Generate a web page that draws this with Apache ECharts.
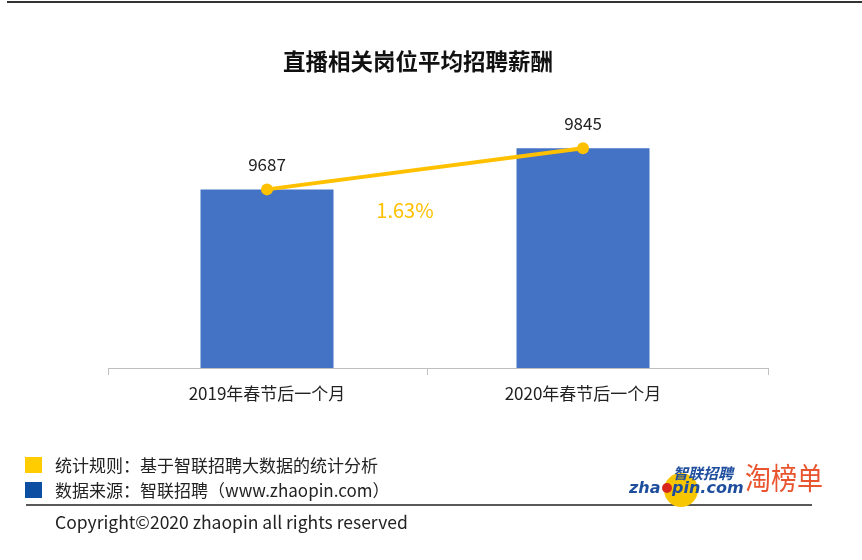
<!DOCTYPE html>
<html>
<head>
<meta charset="utf-8">
<script src="https://cdn.jsdelivr.net/npm/echarts@6/dist/echarts.min.js"></script>
<style>
  html, body { margin: 0; padding: 0; background: #fff; }
  #chart { width: 862px; height: 560px; }
</style>
</head>
<body>
<div id="chart"></div>
<script>
const categories = ['2019年春节后一个月', '2020年春节后一个月']
const salary = [9687, 9845]
const growthLabel = '1.63%'
const titleText = '直播相关岗位平均招聘薪酬'
const noteRule = '统计规则：基于智联招聘大数据的统计分析'
const noteSource = '数据来源：智联招聘（www.zhaopin.com）'
const copyright = 'Copyright©2020 zhaopin all rights reserved'

const CJK = '"Noto Sans CJK SC", "Noto Sans", sans-serif'
const chart = echarts.init(document.getElementById('chart'))

const option = {
  backgroundColor: '#fff',
  animation: false,
  grid: { left: 109, right: 121, top: 108, bottom: 192 },
  xAxis: {
    type: 'category',
    data: categories,
    axisLine: { lineStyle: { color: '#bfbfbf', width: 1 } },
    axisTick: { show: false },
    axisLabel: { color: '#222', fontSize: 17, fontFamily: CJK, margin: 17 }
  },
  yAxis: {
    type: 'value',
    min: 9000,
    max: 10000,
    show: false,
    splitLine: { show: false }
  },
  series: [
    {
      type: 'bar',
      data: salary,
      barWidth: 133,
      itemStyle: { color: '#4472C4' }
    },
    {
      type: 'line',
      data: salary,
      symbol: 'circle',
      symbolSize: 12,
      lineStyle: { color: '#FFC000', width: 4 },
      itemStyle: { color: '#FFC000' },
      label: {
        show: true,
        position: 'top',
        distance: 10,
        color: '#222',
        fontSize: 17,
        fontFamily: CJK
      }
    }
  ],
  graphic: [
    // top rule
    { type: 'line', shape: { x1: 7, y1: 2, x2: 862, y2: 2 }, style: { stroke: '#333', lineWidth: 2 } },
    // axis line extension and ticks
    { type: 'line', shape: { x1: 741, y1: 368.5, x2: 768, y2: 368.5 }, style: { stroke: '#bfbfbf', lineWidth: 1 } },
    { type: 'line', shape: { x1: 108.5, y1: 368, x2: 108.5, y2: 375 }, style: { stroke: '#bfbfbf', lineWidth: 1 } },
    { type: 'line', shape: { x1: 427.5, y1: 368, x2: 427.5, y2: 375 }, style: { stroke: '#bfbfbf', lineWidth: 1 } },
    { type: 'line', shape: { x1: 768.5, y1: 368, x2: 768.5, y2: 375 }, style: { stroke: '#bfbfbf', lineWidth: 1 } },
    // title
    {
      type: 'text', left: 283, top: 50,
      style: { text: titleText, fill: '#111', font: 'bold 22.5px ' + CJK }
    },
    // growth label
    {
      type: 'text', x: 405, y: 210,
      style: { text: growthLabel, fill: '#FFC000', font: '20px ' + CJK, textAlign: 'center', textVerticalAlign: 'middle' }
    },
    // notes
    { type: 'rect', shape: { x: 25, y: 457, width: 17, height: 16 }, style: { fill: '#FFCC00' } },
    { type: 'rect', shape: { x: 25, y: 482, width: 17, height: 16 }, style: { fill: '#0B4EA2' } },
    {
      type: 'text', x: 55, y: 466,
      style: { text: noteRule, fill: '#222', font: '17px ' + CJK, textVerticalAlign: 'middle' }
    },
    {
      type: 'text', x: 55, y: 491,
      style: { text: noteSource, fill: '#222', font: '17px ' + CJK, textVerticalAlign: 'middle' }
    },
    { type: 'line', shape: { x1: 26, y1: 505, x2: 812, y2: 505 }, style: { stroke: '#222', lineWidth: 1.5 } },
    {
      type: 'text', x: 55, y: 522,
      style: { text: copyright, fill: '#222', font: '17.5px ' + CJK, textVerticalAlign: 'middle' }
    },
    // logo
    { type: 'circle', shape: { cx: 681, cy: 490, r: 17 }, style: { fill: '#F7C600' }, z: 1 },
    { type: 'circle', shape: { cx: 667, cy: 488, r: 5 }, style: { fill: '#D9261C' }, z: 3 },
    {
      type: 'text', x: 673, y: 473, z: 3,
      style: { text: '智联招聘', fill: '#1F4E9E', font: 'italic bold 15px ' + CJK, textVerticalAlign: 'middle' }
    },
    {
      type: 'text', x: 629, y: 489, z: 3,
      style: { text: 'zha', fill: '#1F4E9E', font: 'italic bold 16px "DejaVu Sans", sans-serif', textVerticalAlign: 'middle' }
    },
    {
      type: 'text', x: 672, y: 489, z: 3,
      style: { text: 'pin.com', fill: '#1F4E9E', font: 'italic bold 16px "DejaVu Sans", sans-serif', textVerticalAlign: 'middle' }
    },
    {
      type: 'text', x: 745, y: 478, z: 3, scaleY: 1.15, originX: 0, originY: 0,
      style: { text: '淘榜单', fill: '#E9532D', font: '26px ' + CJK, textVerticalAlign: 'middle' }
    }
  ]
}

chart.setOption(option)
</script>
</body>
</html>
